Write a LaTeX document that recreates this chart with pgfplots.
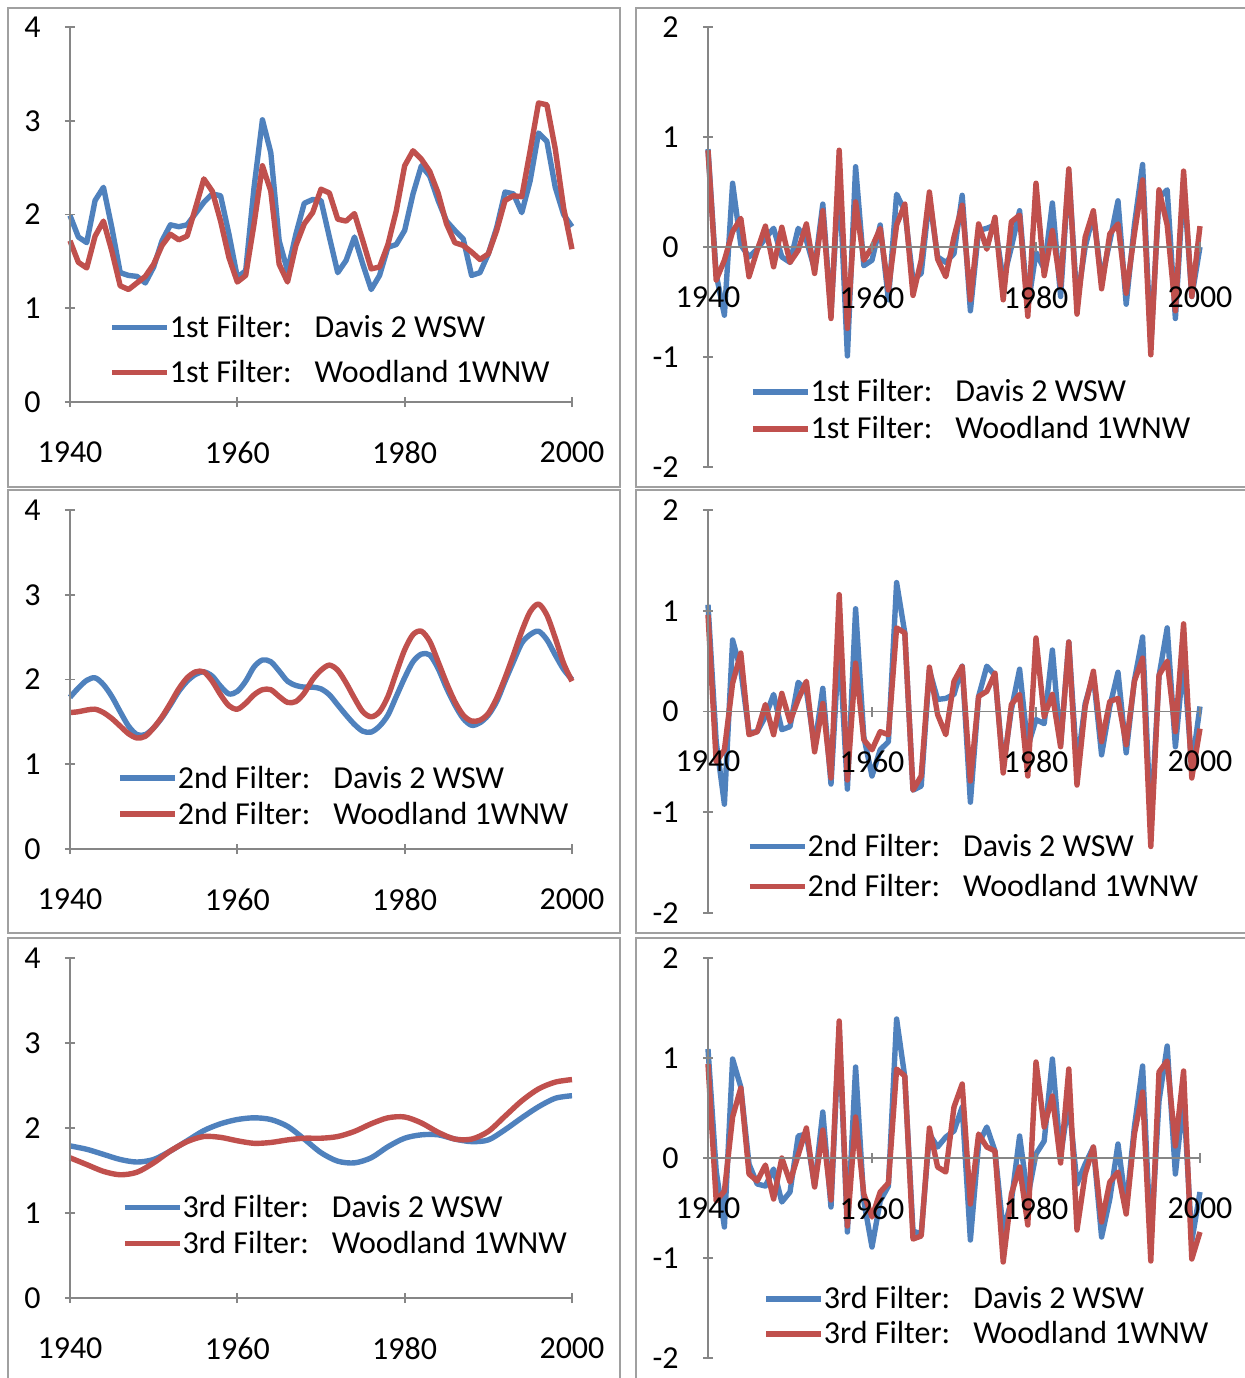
\documentclass[border=0pt]{standalone}
\usepackage{fontspec}
\setmainfont{Carlito}
\usepackage{pgfplots}
\usepackage{pgfplotstable}
\pgfplotsset{compat=1.18}
\definecolor{sblue}{HTML}{4F81BD}
\definecolor{sred}{HTML}{C0504D}
\definecolor{axgray}{HTML}{868686}
\definecolor{frgray}{HTML}{A0A0A0}
\newcommand\fs{\fontsize{16}{19}\selectfont}

% 1st filter
\pgfplotstableread{
year davis wood
1940 1.99 1.72
1941 1.76 1.49
1942 1.70 1.43
1943 2.15 1.77
1944 2.29 1.93
1945 1.86 1.61
1946 1.38 1.24
1947 1.35 1.20
1948 1.34 1.27
1949 1.27 1.34
1950 1.44 1.47
1951 1.72 1.67
1952 1.89 1.79
1953 1.87 1.73
1954 1.89 1.77
1955 2.01 2.07
1956 2.13 2.38
1957 2.22 2.25
1958 2.20 1.93
1959 1.79 1.54
1960 1.33 1.28
1961 1.40 1.35
1962 2.29 1.90
1963 3.01 2.52
1964 2.66 2.25
1965 1.72 1.47
1966 1.40 1.28
1967 1.79 1.67
1968 2.12 1.90
1969 2.16 2.02
1970 2.15 2.27
1971 1.76 2.23
1972 1.38 1.95
1973 1.51 1.93
1974 1.76 2.01
1975 1.47 1.72
1976 1.20 1.42
1977 1.35 1.44
1978 1.65 1.68
1979 1.68 2.04
1980 1.83 2.52
1981 2.22 2.68
1982 2.52 2.59
1983 2.41 2.46
1984 2.15 2.23
1985 1.93 1.90
1986 1.83 1.70
1987 1.74 1.67
1988 1.35 1.60
1989 1.38 1.52
1990 1.58 1.58
1991 1.86 1.83
1992 2.24 2.15
1993 2.22 2.20
1994 2.02 2.19
1995 2.36 2.68
1996 2.87 3.19
1997 2.78 3.17
1998 2.29 2.70
1999 2.00 2.07
2000 1.87 1.63
}\filterA

% 2nd filter
\pgfplotstableread{
year davis wood
1940 1.79 1.61
1941 1.90 1.62
1942 1.99 1.64
1943 2.02 1.65
1944 1.94 1.61
1945 1.80 1.54
1946 1.62 1.45
1947 1.45 1.36
1948 1.35 1.31
1949 1.35 1.33
1950 1.43 1.43
1951 1.55 1.56
1952 1.70 1.72
1953 1.86 1.89
1954 1.98 2.02
1955 2.06 2.09
1956 2.09 2.09
1957 2.04 1.98
1958 1.92 1.82
1959 1.83 1.69
1960 1.86 1.65
1961 1.98 1.72
1962 2.15 1.82
1963 2.23 1.88
1964 2.21 1.88
1965 2.10 1.80
1966 1.98 1.73
1967 1.93 1.74
1968 1.91 1.84
1969 1.91 2.00
1970 1.89 2.11
1971 1.82 2.17
1972 1.70 2.11
1973 1.58 1.96
1974 1.47 1.78
1975 1.39 1.62
1976 1.38 1.56
1977 1.45 1.62
1978 1.58 1.80
1979 1.80 2.08
1980 2.02 2.35
1981 2.21 2.53
1982 2.30 2.57
1983 2.29 2.45
1984 2.13 2.21
1985 1.90 1.96
1986 1.70 1.74
1987 1.54 1.58
1988 1.46 1.51
1989 1.49 1.52
1990 1.58 1.60
1991 1.74 1.78
1992 1.98 2.02
1993 2.21 2.29
1994 2.43 2.57
1995 2.53 2.80
1996 2.57 2.89
1997 2.47 2.76
1998 2.29 2.49
1999 2.12 2.19
2000 2.00 1.98
}\filterB

% 3rd filter
\pgfplotstableread{
year davis wood
1940 1.79 1.65
1942 1.75 1.57
1944 1.69 1.49
1946 1.63 1.45
1948 1.60 1.48
1950 1.63 1.59
1952 1.73 1.73
1954 1.85 1.84
1956 1.97 1.90
1958 2.05 1.89
1960 2.10 1.85
1962 2.12 1.82
1964 2.10 1.83
1966 2.02 1.86
1968 1.87 1.88
1970 1.71 1.88
1972 1.61 1.90
1974 1.59 1.96
1976 1.65 2.05
1978 1.78 2.12
1980 1.88 2.13
1982 1.92 2.06
1984 1.92 1.95
1986 1.87 1.87
1988 1.84 1.87
1990 1.86 1.96
1992 1.98 2.14
1994 2.12 2.32
1996 2.25 2.46
1998 2.35 2.54
2000 2.38 2.57
}\filterC

% residuals, 1st filter
\pgfplotstableread{
year davis wood
1940 0.89 0.88
1941 -0.25 -0.30
1942 -0.62 -0.12
1943 0.58 0.14
1944 0.02 0.26
1945 -0.09 -0.27
1946 -0.02 -0.03
1947 0.08 0.19
1948 0.17 -0.18
1949 -0.09 0.18
1950 -0.14 -0.14
1951 0.17 -0.03
1952 0.06 0.21
1953 -0.20 -0.24
1954 0.39 0.33
1955 -0.60 -0.65
1956 0.65 0.88
1957 -0.99 -0.74
1958 0.73 0.41
1959 -0.17 -0.12
1960 -0.12 0.00
1961 0.20 0.17
1962 -0.48 -0.39
1963 0.48 0.20
1964 0.33 0.39
1965 -0.30 -0.44
1966 -0.24 -0.12
1967 0.45 0.50
1968 -0.09 -0.11
1969 -0.14 -0.27
1970 -0.06 0.09
1971 0.47 0.38
1972 -0.58 -0.48
1973 0.15 0.21
1974 0.17 -0.02
1975 0.20 0.27
1976 -0.30 -0.48
1977 0.00 0.23
1978 0.33 0.29
1979 -0.55 -0.63
1980 -0.05 0.58
1981 -0.20 -0.26
1982 0.40 0.15
1983 -0.45 -0.35
1984 0.68 0.71
1985 -0.50 -0.61
1986 0.00 0.09
1987 0.30 0.33
1988 -0.30 -0.38
1989 0.05 0.12
1990 0.42 0.21
1991 -0.52 -0.42
1992 0.20 0.12
1993 0.75 0.61
1994 -0.90 -0.98
1995 0.45 0.52
1996 0.52 0.20
1997 -0.65 -0.58
1998 0.60 0.69
1999 -0.45 -0.45
2000 0.00 0.19
}\residA

% residuals, 2nd filter
\pgfplotstableread{
year davis wood
1940 1.06 0.96
1941 -0.30 -0.50
1942 -0.92 -0.38
1943 0.71 0.28
1944 0.41 0.58
1945 -0.21 -0.23
1946 -0.20 -0.20
1947 -0.05 0.07
1948 0.17 -0.23
1949 -0.18 0.18
1950 -0.15 -0.10
1951 0.29 0.12
1952 0.21 0.30
1953 -0.35 -0.40
1954 0.23 0.08
1955 -0.72 -0.66
1956 0.70 1.16
1957 -0.77 -0.68
1958 1.02 0.48
1959 -0.25 -0.28
1960 -0.64 -0.38
1961 -0.38 -0.20
1962 -0.30 -0.23
1963 1.28 0.83
1964 0.78 0.78
1965 -0.78 -0.78
1966 -0.74 -0.64
1967 0.41 0.44
1968 0.12 -0.03
1969 0.13 -0.23
1970 0.17 0.30
1971 0.45 0.45
1972 -0.90 -0.69
1973 0.15 0.15
1974 0.45 0.20
1975 0.36 0.38
1976 -0.55 -0.61
1977 0.02 0.07
1978 0.42 0.17
1979 -0.35 -0.64
1980 -0.08 0.73
1981 -0.12 -0.05
1982 0.61 0.17
1983 -0.33 -0.35
1984 0.69 0.69
1985 -0.55 -0.73
1986 0.08 0.05
1987 0.36 0.40
1988 -0.43 -0.30
1989 0.05 0.10
1990 0.39 0.13
1991 -0.41 -0.33
1992 0.31 0.30
1993 0.74 0.53
1994 -1.14 -1.34
1995 0.35 0.36
1996 0.83 0.50
1997 -0.35 -0.20
1998 0.51 0.87
1999 -0.55 -0.66
2000 0.05 -0.17
}\residB

% residuals, 3rd filter
\pgfplotstableread{
year davis wood
1940 1.09 0.94
1941 -0.13 -0.43
1942 -0.69 -0.33
1943 0.99 0.41
1944 0.71 0.70
1945 -0.06 -0.16
1946 -0.26 -0.23
1947 -0.28 -0.07
1948 -0.11 -0.41
1949 -0.44 0.00
1950 -0.34 -0.24
1951 0.22 0.03
1952 0.24 0.30
1953 -0.28 -0.29
1954 0.46 0.28
1955 -0.49 -0.42
1956 1.30 1.37
1957 -0.74 -0.68
1958 0.91 0.41
1959 -0.43 -0.36
1960 -0.89 -0.59
1961 -0.43 -0.34
1962 -0.28 -0.25
1963 1.39 0.89
1964 0.81 0.82
1965 -0.73 -0.81
1966 -0.76 -0.78
1967 0.24 0.30
1968 0.11 -0.09
1969 0.21 -0.14
1970 0.27 0.51
1971 0.51 0.74
1972 -0.82 -0.46
1973 0.14 0.24
1974 0.31 0.11
1975 0.07 0.07
1976 -0.73 -1.04
1977 -0.43 -0.36
1978 0.22 -0.09
1979 -0.39 -0.67
1980 0.04 0.96
1981 0.17 0.31
1982 0.99 0.62
1983 0.02 -0.05
1984 0.57 0.89
1985 -0.26 -0.72
1986 -0.06 -0.16
1987 0.11 0.11
1988 -0.79 -0.64
1989 -0.41 -0.24
1990 0.14 -0.14
1991 -0.49 -0.56
1992 0.31 0.24
1993 0.92 0.66
1994 -0.86 -1.03
1995 0.57 0.86
1996 1.12 0.97
1997 -0.16 0.12
1998 0.61 0.87
1999 -0.83 -1.01
2000 -0.34 -0.74
}\residC

\pgfplotsset{
  panel/.style={
    scale only axis, anchor=south west, clip=false, axis on top,
    xmin=1940, xmax=2000,
    xtick={1940,1960,1980,2000}, xticklabels={1940,1960,1980,2000},
    tick style={axgray, line width=0.9pt},
    tick align=outside, major tick length=5pt,
    tick label style={font=\fs, text=black, inner sep=0pt},
    xticklabel style={yshift=-17pt},
    yticklabel style={xshift=-12pt},
    hide obscured x ticks=false, hide obscured y ticks=false,
    legend style={draw=none, fill=none, font=\fs, anchor=west, inner sep=0pt,
      column sep=0pt, nodes={inner sep=0pt, text height=12pt, text depth=4pt}},
    legend cell align=left,
    legend image code/.code={\draw[#1] (0pt,1pt) -- (27.5pt,1pt);},
  },
  lpanel/.style={panel, width=251pt, axis x line=bottom, axis y line=left,
    ymin=0, ymax=4, ytick={0,1,2,3,4}, yticklabels={0,1,2,3,4},
    axis line style={axgray, line width=0.9pt, -}},
  rpanel/.style={panel, width=246pt, axis x line=middle, axis y line=left,
    ymin=-2, ymax=2, ytick={-2,-1,0,1,2}, yticklabels={-2,-1,0,1,2},
    axis line style={axgray, line width=0.9pt, -}},
  ds/.style={sblue, line width=2.7pt, line join=round},
  ws/.style={sred, line width=2.7pt, line join=round},
}

\begin{document}
\begin{tikzpicture}
\useasboundingbox (0pt,0pt) rectangle (622.5pt,-689pt);

% left column
\begin{axis}[lpanel, at={(35pt,-201pt)}, height=187.5pt,
  legend style={at={(0.078,0.133)}, row sep=6.5pt}]
\addplot[ds] table[x=year, y=davis] {\filterA};
\addlegendentry{1st Filter:\hspace{11.5pt}Davis 2 WSW}
\addplot[ws] table[x=year, y=wood] {\filterA};
\addlegendentry{1st Filter:\hspace{11.5pt}Woodland 1WNW}
\end{axis}

\begin{axis}[lpanel, at={(35pt,-424.5pt)}, height=169.5pt,
  legend style={at={(0.094,0.15)}, row sep=2pt}]
\addplot[ds, smooth] table[x=year, y=davis] {\filterB};
\addlegendentry{2nd Filter:\hspace{11.5pt}Davis 2 WSW}
\addplot[ws, smooth] table[x=year, y=wood] {\filterB};
\addlegendentry{2nd Filter:\hspace{11.5pt}Woodland 1WNW}
\end{axis}

\begin{axis}[lpanel, at={(35pt,-649pt)}, height=170pt,
  legend style={at={(0.103,0.207)}, row sep=2pt}]
\addplot[ds, smooth] table[x=year, y=davis] {\filterC};
\addlegendentry{3rd Filter:\hspace{11.5pt}Davis 2 WSW}
\addplot[ws, smooth] table[x=year, y=wood] {\filterC};
\addlegendentry{3rd Filter:\hspace{11.5pt}Woodland 1WNW}
\end{axis}

% right column
\begin{axis}[rpanel, at={(354pt,-233.5pt)}, height=220pt,
  legend style={at={(0.085,0.124)}, row sep=2.5pt}]
\addplot[ds] table[x=year, y=davis] {\residA};
\addlegendentry{1st Filter:\hspace{11.5pt}Davis 2 WSW}
\addplot[ws] table[x=year, y=wood] {\residA};
\addlegendentry{1st Filter:\hspace{11.5pt}Woodland 1WNW}
\end{axis}

\begin{axis}[rpanel, at={(354pt,-456.5pt)}, height=201.5pt,
  legend style={at={(0.079,0.111)}, row sep=4pt}]
\addplot[ds] table[x=year, y=davis] {\residB};
\addlegendentry{2nd Filter:\hspace{11.5pt}Davis 2 WSW}
\addplot[ws] table[x=year, y=wood] {\residB};
\addlegendentry{2nd Filter:\hspace{11.5pt}Woodland 1WNW}
\end{axis}

\begin{axis}[rpanel, at={(354pt,-679pt)}, height=200pt,
  legend style={at={(0.112,0.099)}, row sep=1.5pt}]
\addplot[ds] table[x=year, y=davis] {\residC};
\addlegendentry{3rd Filter:\hspace{11.5pt}Davis 2 WSW}
\addplot[ws] table[x=year, y=wood] {\residC};
\addlegendentry{3rd Filter:\hspace{11.5pt}Woodland 1WNW}
\end{axis}

% chart area borders
\draw[frgray, line width=1pt] (4pt,-4pt) rectangle (310pt,-243.5pt);
\draw[frgray, line width=1pt] (4pt,-245pt) rectangle (310pt,-466.5pt);
\draw[frgray, line width=1pt] (4pt,-469pt) rectangle (310pt,-695pt);
\draw[frgray, line width=1pt] (318pt,-4pt) rectangle (630pt,-243.5pt);
\draw[frgray, line width=1pt] (318pt,-245pt) rectangle (630pt,-466.5pt);
\draw[frgray, line width=1pt] (318pt,-469pt) rectangle (630pt,-695pt);
\end{tikzpicture}
\end{document}
